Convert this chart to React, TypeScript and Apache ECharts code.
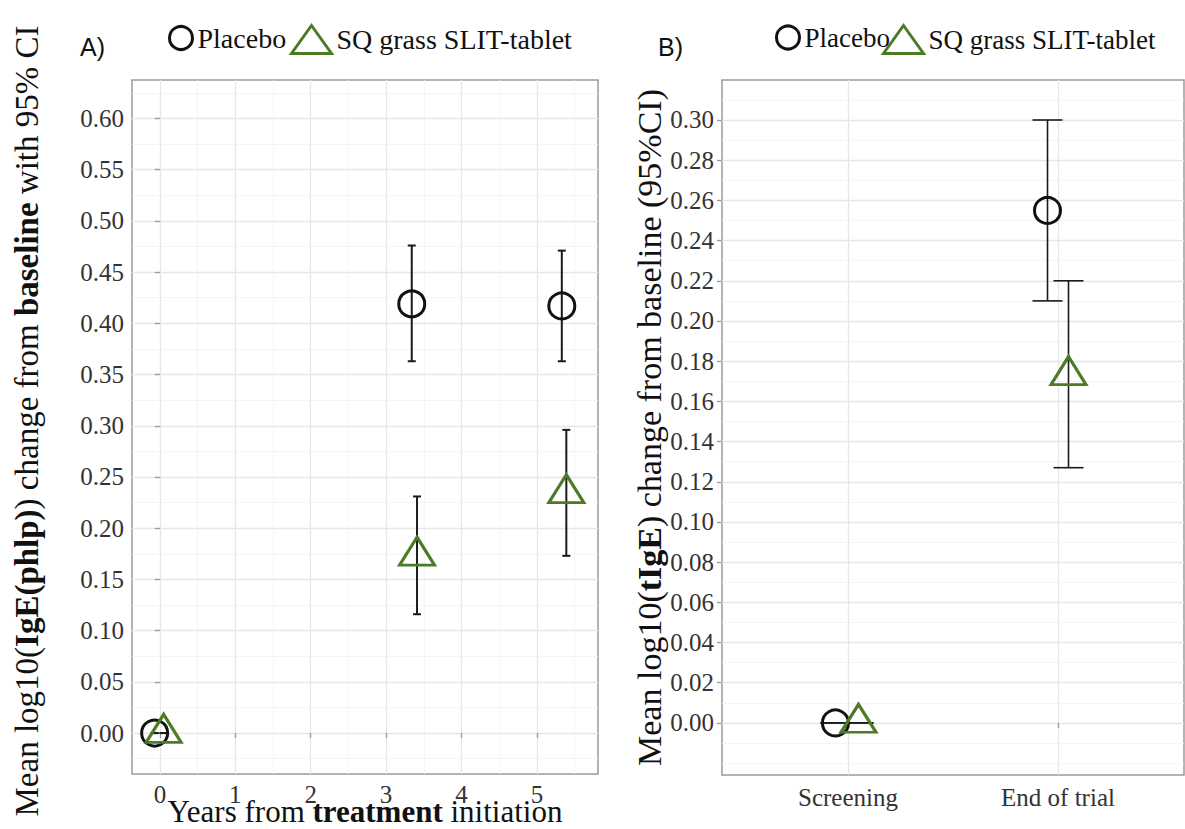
import React, { useEffect, useRef } from "react";
import * as echarts from "echarts";

// Panel A: change in log10 IgE(phlp) by years since treatment start
const yearsPlacebo = [-0.07, 3.34, 5.33];
const meanPlacebo = [0.0, 0.419, 0.417];
const lowPlacebo = [0.0, 0.363, 0.363];
const highPlacebo = [0.0, 0.476, 0.471];

const yearsSlit = [0.05, 3.41, 5.39];
const meanSlit = [0.0, 0.173, 0.234];
const lowSlit = [0.0, 0.116, 0.173];
const highSlit = [0.0, 0.231, 0.296];

const yearTicks = [0, 1, 2, 3, 4, 5];
const yTicksA = [0, 0.05, 0.1, 0.15, 0.2, 0.25, 0.3, 0.35, 0.4, 0.45, 0.5, 0.55, 0.6];

// Panel B: change in log10 total IgE at screening and end of trial
const stages = ["Screening", "End of trial"];
const stagePosPlacebo = [0.94, 1.95];
const meanPlaceboB = [0.0, 0.255];
const lowPlaceboB = [0.0, 0.21];
const highPlaceboB = [0.0, 0.3];

const stagePosSlit = [1.05, 2.05];
const meanSlitB = [0.0, 0.173];
const lowSlitB = [0.0, 0.127];
const highSlitB = [0.0, 0.22];

const stageTicks = [1, 2];
const yTicksB = [0, 0.02, 0.04, 0.06, 0.08, 0.1, 0.12, 0.14, 0.16, 0.18, 0.2, 0.22, 0.24, 0.26, 0.28, 0.3];

const SERIF = "'Liberation Serif', Times, serif";
const GREEN = "#4d7a24";
const INK = "#111111";
const BORDER = "#9a9a9a";
const MAJOR = "#e6e6e6";
const MINOR = "#f2f2f2";
const LABEL = "#333333";

const TRI_SIZE: [number, number] = [35, 28];
const TRI_PATH = "path://M20,0L40,28L0,28Z";

const zip3 = (a: number[], b: number[], c: number[]) => a.map((v, i) => [v, b[i], c[i]]);
const zip2 = (a: number[], b: number[]) => a.map((v, i) => [v, b[i]]);

const errorBar = (capHalf: number, lw: number) => (params: any, api: any) => {
  const x = api.value(0);
  const lo = api.coord([x, api.value(1)]);
  const hi = api.coord([x, api.value(2)]);
  const style = { stroke: "#1a1a1a", lineWidth: lw };
  return {
    type: "group",
    children: [
      { type: "line", shape: { x1: lo[0], y1: lo[1], x2: hi[0], y2: hi[1] }, style },
      { type: "line", shape: { x1: hi[0] - capHalf, y1: hi[1], x2: hi[0] + capHalf, y2: hi[1] }, style },
      { type: "line", shape: { x1: lo[0] - capHalf, y1: lo[1], x2: lo[0] + capHalf, y2: lo[1] }, style },
    ],
  };
};

const tickStyle = { show: true, length: 5, lineStyle: { color: BORDER, width: 1.3 } };
const labelStyle = { fontFamily: SERIF, fontSize: 25, color: LABEL };
const boldRich = (size: number) => ({
  b: { fontFamily: SERIF, fontSize: size, fontWeight: "bold" as const, color: INK },
});

const minorAxis = (gridIndex: number, min: number, max: number, splitNumber: number) => ({
  type: "value" as const,
  gridIndex,
  min,
  max,
  splitNumber,
  z: 0,
  axisLine: { show: false },
  axisTick: { show: false },
  axisLabel: { show: false },
  splitLine: { show: true, showMinLine: false, showMaxLine: false, lineStyle: { color: MINOR, width: 0.8 } },
});

const legendItem = (left: number, name: string, icon: string, w: number, h: number, stroke: string, size: number) => ({
  left,
  top: 19,
  orient: "horizontal" as const,
  selectedMode: false,
  itemWidth: w,
  itemHeight: h,
  textStyle: { fontFamily: SERIF, fontSize: size, color: INK },
  data: [{ name, icon, itemStyle: { color: "#ffffff", borderColor: stroke, borderWidth: 3 } }],
});

export default function App() {
  const ref = useRef<HTMLDivElement>(null);

  useEffect(() => {
    if (!ref.current) return;
    const chart = echarts.init(ref.current, null, { renderer: "svg" });

    const option: any = {
      animation: false,
      backgroundColor: "#ffffff",
      textStyle: { fontFamily: SERIF },
      title: [
        { text: "A)", left: 75, top: 29, textStyle: { fontFamily: "Liberation Sans", fontSize: 25, fontWeight: "normal", color: INK } },
        { text: "B)", left: 653, top: 29, textStyle: { fontFamily: "Liberation Sans", fontSize: 25, fontWeight: "normal", color: INK } },
      ],
      legend: [
        legendItem(163, "Placebo", "circle", 23, 23, INK, 28),
        legendItem(285, "SQ grass SLIT-tablet", TRI_PATH, 40, 28, GREEN, 28),
        legendItem(770, "Placebo", "circle", 23, 23, INK, 27),
        legendItem(877, "SQ grass SLIT-tablet", TRI_PATH, 40, 28, GREEN, 27),
      ],
      grid: [
        { left: 132, top: 80, width: 466, height: 694, outerBoundsMode: "none", containLabel: false, show: true, borderColor: BORDER, borderWidth: 1.5, backgroundColor: "transparent" },
        { left: 722, top: 80, width: 462, height: 695, outerBoundsMode: "none", containLabel: false, show: true, borderColor: BORDER, borderWidth: 1.5, backgroundColor: "transparent" },
      ],
      xAxis: [
        {
          type: "value",
          gridIndex: 0,
          min: -0.37,
          max: 5.81,
          splitNumber: 6,
          z: 1,
          axisLine: { show: false },
          axisTick: { ...tickStyle, customValues: yearTicks },
          axisLabel: { ...labelStyle, margin: 8, customValues: yearTicks, formatter: (v: number) => String(v) },
          splitLine: { show: true, lineStyle: { color: MAJOR, width: 1.3 } },
          name: "Years from {b|treatment} initiation",
          nameLocation: "middle",
          nameGap: 22,
          nameMoveOverlap: false,
          nameTextStyle: { fontFamily: SERIF, fontSize: 31, color: INK, rich: boldRich(31) },
        },
        minorAxis(0, -0.37, 5.81, 12),
        {
          type: "value",
          gridIndex: 1,
          min: 0.4,
          max: 2.6,
          splitNumber: 2,
          z: 1,
          axisLine: { show: false },
          axisTick: { ...tickStyle, customValues: stageTicks },
          axisLabel: { ...labelStyle, margin: 10, customValues: stageTicks, formatter: (v: number) => stages[Math.round(v) - 1] },
          splitLine: { show: true, lineStyle: { color: MAJOR, width: 1.3 } },
        },
      ],
      yAxis: [
        {
          type: "value",
          gridIndex: 0,
          min: -0.04,
          max: 0.6376,
          splitNumber: 13,
          z: 1,
          axisLine: { show: false },
          axisTick: { ...tickStyle, customValues: yTicksA },
          axisLabel: { ...labelStyle, margin: 8, customValues: yTicksA, formatter: (v: number) => v.toFixed(2) },
          splitLine: { show: true, lineStyle: { color: MAJOR, width: 1.3 } },
          name: "Mean log10({b|IgE(phlp)}) change from {b|baseline} with 95% CI",
          nameLocation: "middle",
          nameGap: 89,
          nameTextStyle: { fontFamily: SERIF, fontSize: 33, color: INK, rich: boldRich(33), padding: [0, 0, 0, 12] },
        },
        // grid lines halfway between labelled ticks (doubled value scale keeps the same positions)
        minorAxis(0, -0.08, 1.2752, 27),
        {
          type: "value",
          gridIndex: 1,
          min: -0.0259,
          max: 0.3199,
          splitNumber: 17,
          z: 1,
          axisLine: { show: false },
          axisTick: { ...tickStyle, customValues: yTicksB },
          axisLabel: { ...labelStyle, margin: 8, customValues: yTicksB, formatter: (v: number) => v.toFixed(2) },
          splitLine: { show: true, lineStyle: { color: MAJOR, width: 1.3 } },
          name: "Mean log10({b|tIgE}) change from baseline (95%CI)",
          nameLocation: "middle",
          nameGap: 50,
          nameTextStyle: { fontFamily: SERIF, fontSize: 34, color: INK, rich: boldRich(34) },
        },
        minorAxis(1, -0.0259, 0.3199, 35),
      ],
      series: [
        {
          name: "Placebo CI A",
          type: "custom",
          xAxisIndex: 0,
          yAxisIndex: 0,
          z: 3,
          renderItem: errorBar(4, 2),
          encode: { x: 0, y: [1, 2] },
          data: zip3(yearsPlacebo, lowPlacebo, highPlacebo),
        },
        {
          name: "SLIT CI A",
          type: "custom",
          xAxisIndex: 0,
          yAxisIndex: 0,
          z: 3,
          renderItem: errorBar(4, 2),
          encode: { x: 0, y: [1, 2] },
          data: zip3(yearsSlit, lowSlit, highSlit),
        },
        {
          name: "Placebo",
          type: "scatter",
          xAxisIndex: 0,
          yAxisIndex: 0,
          z: 4,
          symbol: "circle",
          symbolSize: 26,
          itemStyle: { color: "rgba(255,255,255,0)", borderColor: INK, borderWidth: 3, opacity: 1 },
          data: zip2(yearsPlacebo, meanPlacebo),
        },
        {
          name: "SQ grass SLIT-tablet",
          type: "scatter",
          xAxisIndex: 0,
          yAxisIndex: 0,
          z: 4,
          symbol: "triangle",
          symbolSize: TRI_SIZE,
          symbolOffset: [0, -TRI_SIZE[1] / 6],
          itemStyle: { color: "rgba(255,255,255,0)", borderColor: GREEN, borderWidth: 3, opacity: 1 },
          data: zip2(yearsSlit, meanSlit),
        },
        {
          name: "Placebo CI B",
          type: "custom",
          xAxisIndex: 2,
          yAxisIndex: 2,
          z: 3,
          renderItem: errorBar(15, 1.6),
          encode: { x: 0, y: [1, 2] },
          data: zip3(stagePosPlacebo, lowPlaceboB, highPlaceboB),
        },
        {
          name: "SLIT CI B",
          type: "custom",
          xAxisIndex: 2,
          yAxisIndex: 2,
          z: 3,
          renderItem: errorBar(15, 1.6),
          encode: { x: 0, y: [1, 2] },
          data: zip3(stagePosSlit, lowSlitB, highSlitB),
        },
        {
          name: "Placebo",
          type: "scatter",
          xAxisIndex: 2,
          yAxisIndex: 2,
          z: 4,
          symbol: "circle",
          symbolSize: 26,
          itemStyle: { color: "rgba(255,255,255,0)", borderColor: INK, borderWidth: 3, opacity: 1 },
          data: zip2(stagePosPlacebo, meanPlaceboB),
        },
        {
          name: "SQ grass SLIT-tablet",
          type: "scatter",
          xAxisIndex: 2,
          yAxisIndex: 2,
          z: 4,
          symbol: "triangle",
          symbolSize: TRI_SIZE,
          symbolOffset: [0, -TRI_SIZE[1] / 6],
          itemStyle: { color: "rgba(255,255,255,0)", borderColor: GREEN, borderWidth: 3, opacity: 1 },
          data: zip2(stagePosSlit, meanSlitB),
        },
      ],
    };

    chart.setOption(option);
    return () => chart.dispose();
  }, []);

  return (
    <div
      ref={ref}
      style={{ position: "fixed", left: 0, top: 0, width: 1185, height: 829, background: "#fff" }}
    />
  );
}
